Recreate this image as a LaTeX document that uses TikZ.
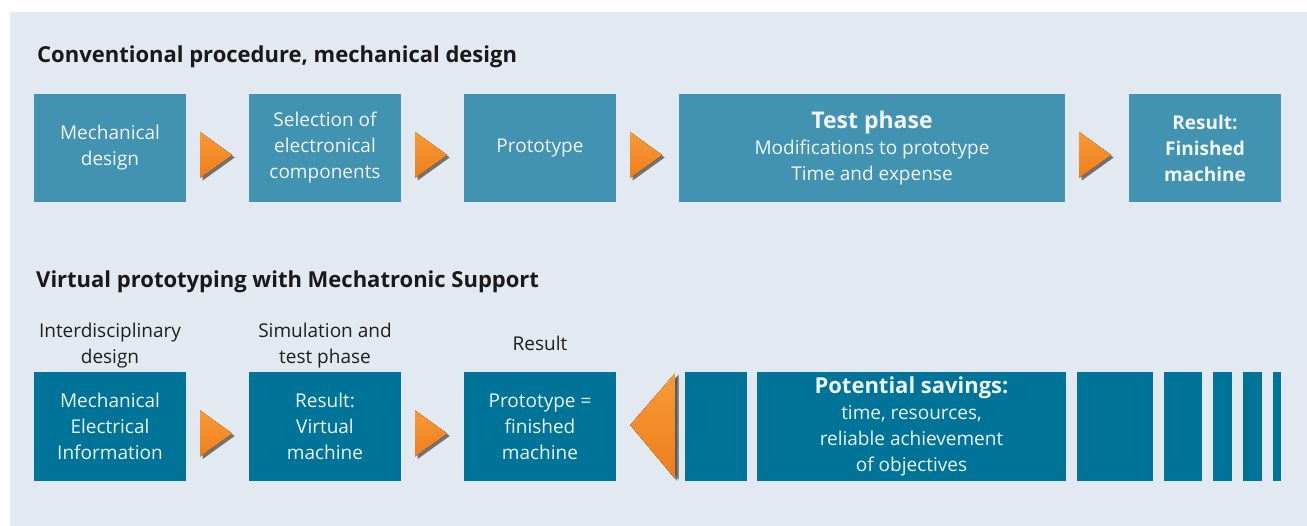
\documentclass[tikz,border=0pt]{standalone}
\usepackage{fontspec}
\setmainfont{Open Sans}
\usepackage{tikz}
\usetikzlibrary{calc, shadows}

\definecolor{panelbg}{HTML}{E2E9F0}
\definecolor{convblue}{HTML}{4292B2}
\definecolor{virtblue}{HTML}{007498}
\definecolor{arrowtop}{HTML}{F89A36}
\definecolor{arrowbot}{HTML}{EE7E1C}

\tikzset{
	convbox/.style={fill=convblue, text=white!93!convblue, inner sep=0pt, minimum height=108, align=center, font=\fontsize{19}{26}\selectfont},
	virtbox/.style={convbox, fill=virtblue, text=white!93!virtblue, minimum height=109},
	heading/.style={anchor=base west, inner sep=0pt, text=black!90, font=\fontsize{22}{26}\bfseries},
	phaselabel/.style={inner sep=0pt, align=center, text=black!88, font=\fontsize{19}{26}\selectfont},
	playarrow/.style={top color=arrowtop, bottom color=arrowbot, drop shadow={shadow xshift=2.5pt, shadow yshift=-2.5pt, fill=black!75, opacity=0.7}},
}

\begin{document}
\begin{tikzpicture}[x=1pt, y=-1pt]

	\useasboundingbox (0,0) rectangle (1307,526);
	\fill[panelbg] (10,12) rectangle (1307,526);

	% conventional procedure
	\node[heading] at (37,63) {Conventional procedure, mechanical design};

	\node[convbox, minimum width=152] (mech)   at (110,148)  {Mechanical\\design};
	\node[convbox, minimum width=152] (select) at (325,148)  {Selection of\\electronical\\components};
	\node[convbox, minimum width=152] (proto)  at (540,148)  {Prototype};
	\node[convbox, minimum width=386] (test)   at (872,148)  {{\fontsize{23}{26}\bfseries Test phase}\\Modifications to prototype\\Time and expense};
	\node[convbox, minimum width=152, font=\fontsize{19}{26}\bfseries] (result) at (1205,148) {Result:\\Finished\\machine};

	% virtual prototyping
	\node[heading] at (36,288) {Virtual prototyping with Mechatronic Support};

	\node[virtbox, minimum width=152] (vmech)   at (110,426.5) {Mechanical\\Electrical\\Information};
	\node[virtbox, minimum width=152] (vresult) at (325,426.5) {Result:\\Virtual\\machine};
	\node[virtbox, minimum width=152] (vproto)  at (540,426.5) {Prototype =\\finished\\machine};

	\node[phaselabel, anchor=south] at ($(vmech.north)+(0,-4)$)   {Interdisciplinary\\design};
	\node[phaselabel, anchor=south] at ($(vresult.north)+(0,-4)$) {Simulation and\\test phase};
	\node[phaselabel, anchor=south] at ($(vproto.north)+(0,-21)$) {Result};

	\node[virtbox, minimum width=62]  (bar1)    at (716,426.5)   {};
	\node[virtbox, minimum width=309] (savings) at (911.5,426.5) {{\fontsize{22}{28}\bfseries Potential savings:}\\time, resources,\\reliable achievement\\of objectives};
	\foreach \x/\w [count=\i from 3] in {1115/76, 1183/38, 1222.5/19, 1252.5/19, 1277/8}
		\node[virtbox, minimum width=\w] (bar\i) at (\x,426.5) {};

	% arrows between the steps
	\foreach \src/\dst in {mech/select, select/proto, proto/test, test/result, vmech/vresult, vresult/vproto}
		\fill[playarrow] ($(\src.east)+(14,-16)$) -- ++(32,23) -- ++(-32,23) -- cycle;

	\fill[playarrow, drop shadow={shadow xshift=4pt, shadow yshift=-1pt, fill=black!70, opacity=0.6}]
		($(vproto.east)+(14,-1.5)$) -- ($(bar1.west)+(-10,-53)$) -- ($(bar1.west)+(-10,52)$) -- cycle;

\end{tikzpicture}
\end{document}
